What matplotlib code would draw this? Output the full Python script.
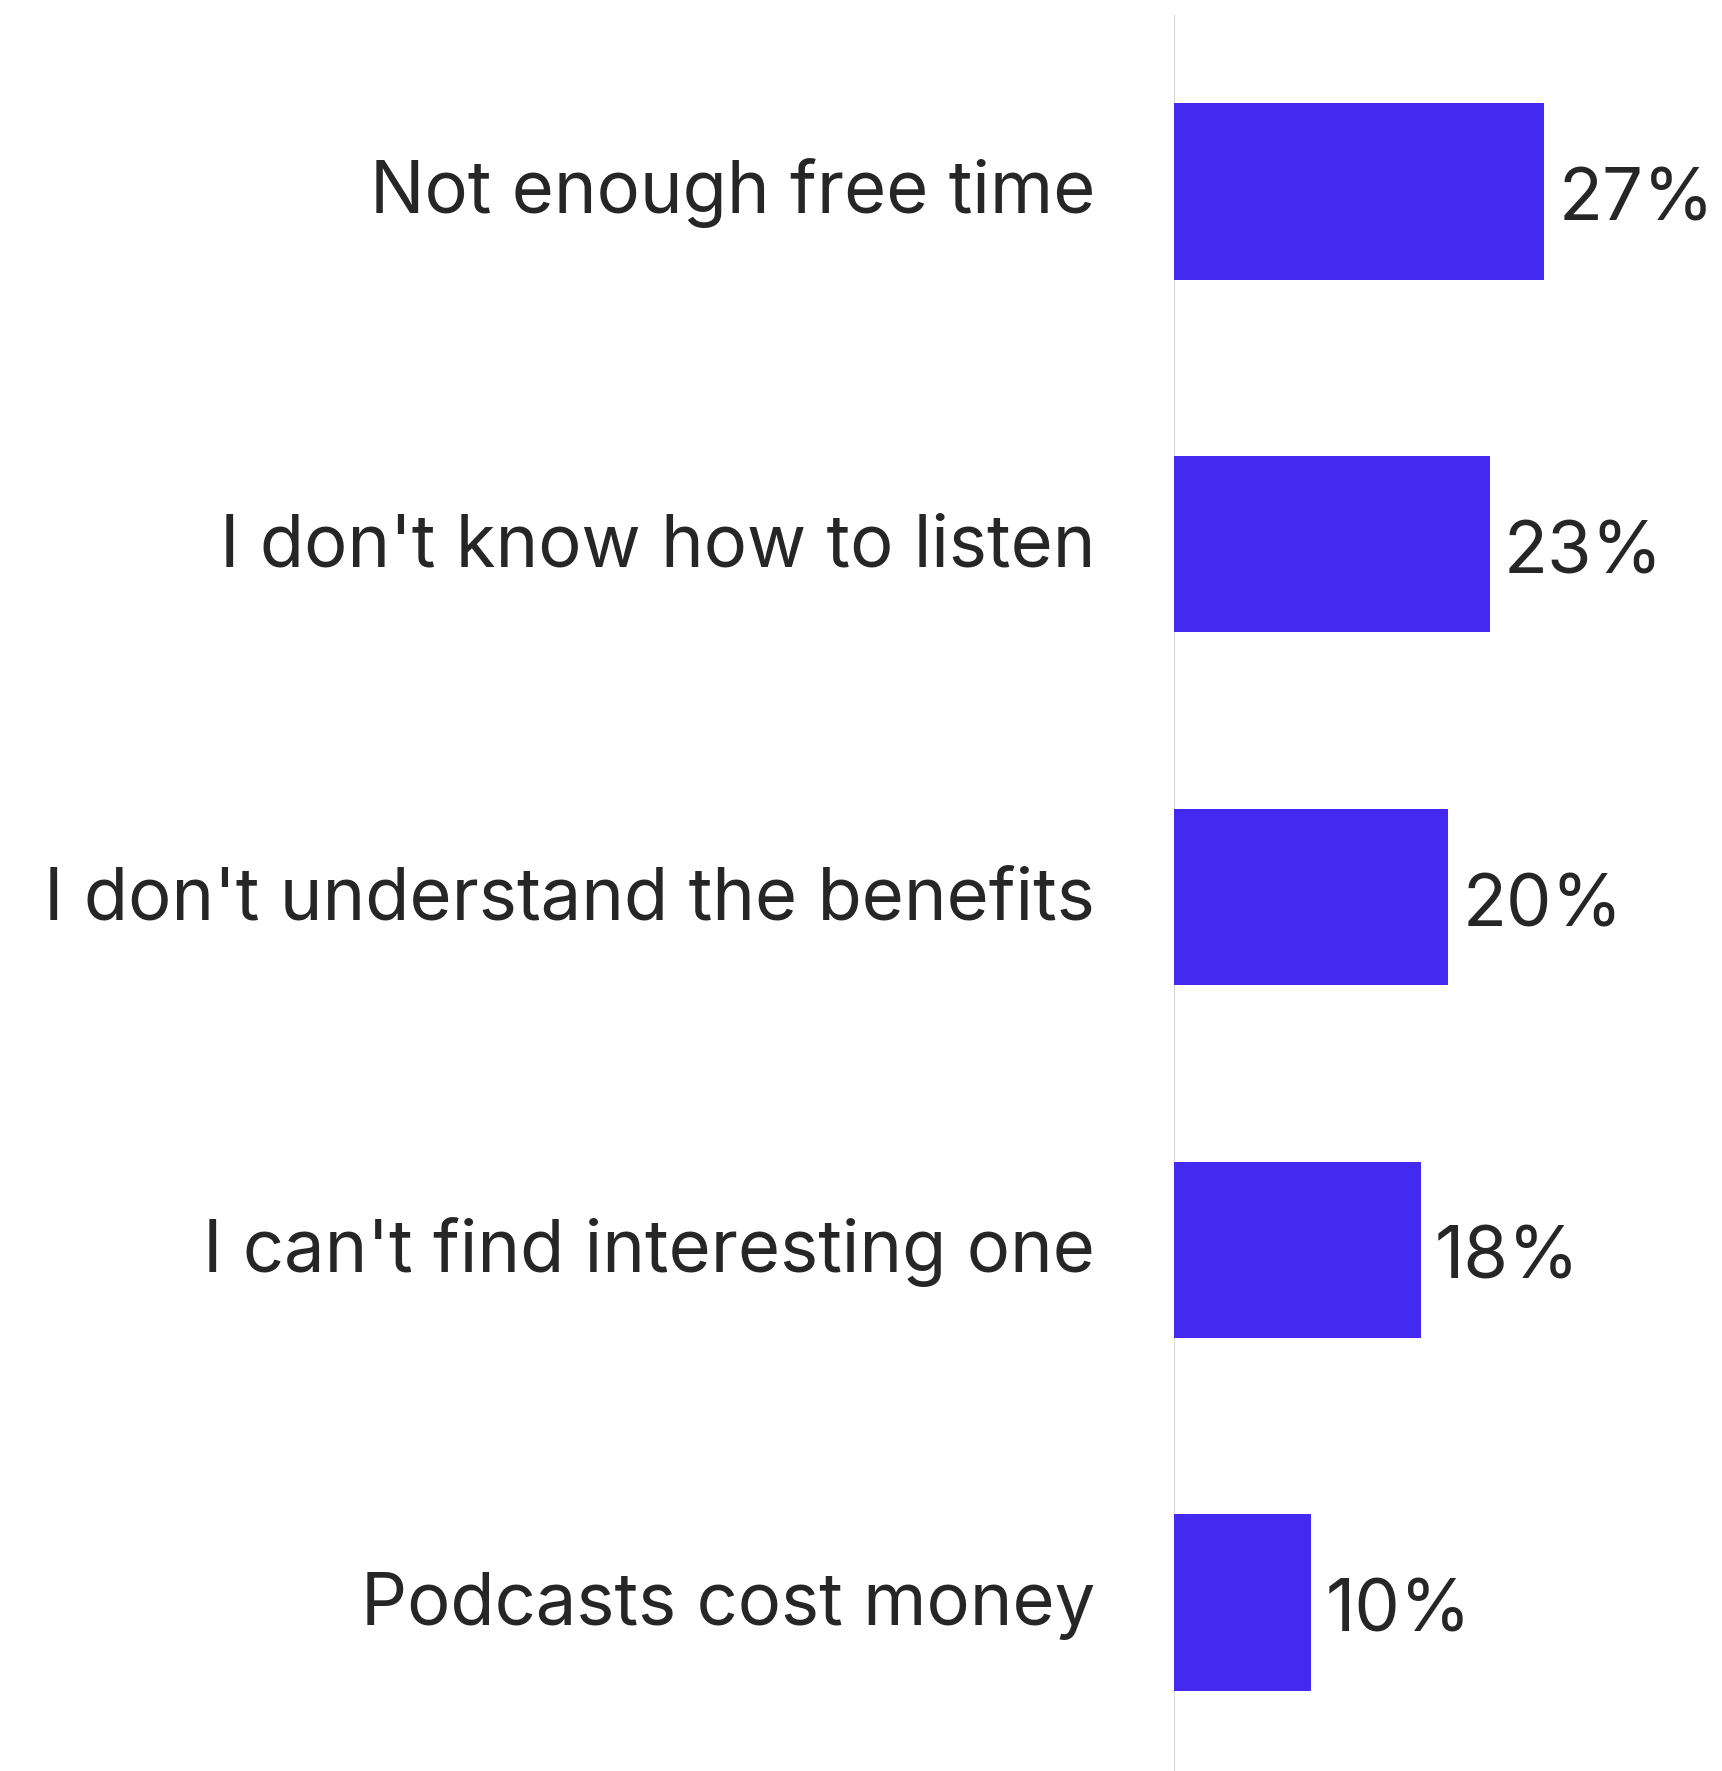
import matplotlib.pyplot as plt
import matplotlib.transforms as mtransforms

# Reasons for not listening to podcasts
reasons = [
    "Not enough free time",
    "I don't know how to listen",
    "I don't understand the benefits",
    "I can't find interesting one",
    "Podcasts cost money",
]
shares = [27, 23, 20, 18, 10]
share_labels = ["27%", "23%", "20%", "18%", "10%"]

bar_color = "#4429F1"
text_color = "#262626"
x_max = 30
px_per_pct = 13.72

plt.rcParams['font.family'] = ['Inter', 'DejaVu Sans']

fig = plt.figure(figsize=(17.22, 17.71), dpi=100)
ax = fig.add_axes([1174 / 1722, -0.0045, x_max * px_per_pct / 1722, 0.996])

ypos = list(range(len(reasons)))
ax.barh(ypos, shares, height=0.5, color=bar_color, zorder=2)
ax.axvline(0, color="#d6d6d6", lw=1.6, zorder=1)

ax.set_xlim(0, x_max)
ax.set_ylim(len(reasons) - 0.5, -0.5)
ax.axis("off")

# offsets given in pixels, converted to inches
def shift(base, dx, dy):
    return base + mtransforms.ScaledTranslation(dx / 100, dy / 100, fig.dpi_scale_trans)

label_base = mtransforms.blended_transform_factory(ax.transAxes, ax.transData)
for y, name in zip(ypos, reasons):
    ax.text(0, y, name, transform=shift(label_base, -79, -22),
            ha="right", va="baseline", fontsize=52, color=text_color, clip_on=False)

for y, v, lab in zip(ypos, shares, share_labels):
    ax.text(v, y, lab, transform=shift(ax.transData, 14, -29),
            ha="left", va="baseline", fontsize=52, color=text_color, clip_on=False)

fig.savefig("out.png", dpi=100, facecolor="white")
